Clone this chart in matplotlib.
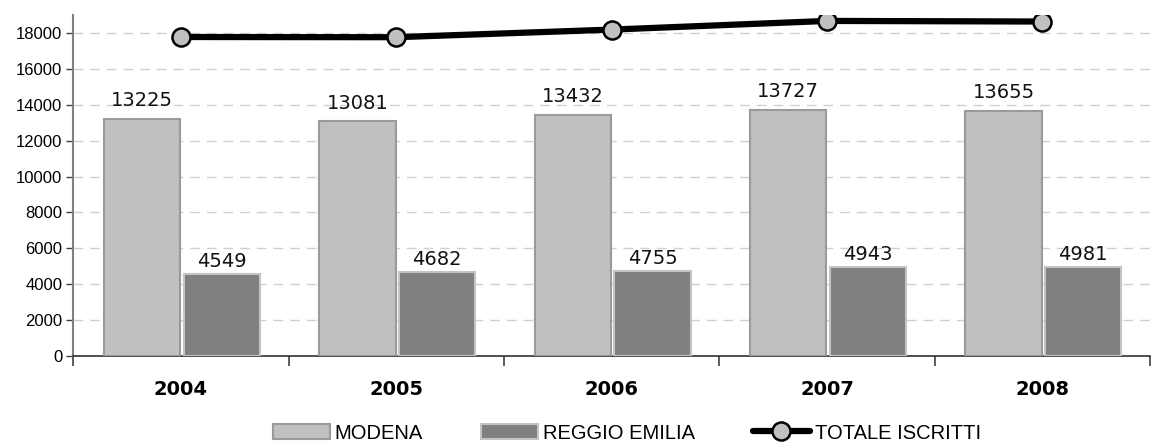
import matplotlib
matplotlib.use("Agg")
import matplotlib.pyplot as plt
import numpy as np

years = ["2004", "2005", "2006", "2007", "2008"]
modena = [13225, 13081, 13432, 13727, 13655]
reggio = [4549, 4682, 4755, 4943, 4981]
totale = [m + r for m, r in zip(modena, reggio)]
yticks = list(range(0, 18001, 2000))

fig = plt.figure(figsize=(11.61, 4.44), dpi=100)
ax = fig.add_axes([73.3/1161, 1-356/444, (1150-73.3)/1161, (356-15)/444])

x = np.arange(len(years))
w = 0.355
b1 = ax.bar(x - 0.18, modena, w, color="#c0c0c0", edgecolor="#9a9a9a", linewidth=1.5, label="MODENA", zorder=3)
b2 = ax.bar(x + 0.19, reggio, w, color="#808080", edgecolor="#c4c4c4", linewidth=1.5, label="REGGIO EMILIA", zorder=3)
ax.plot(x, totale, color="black", linewidth=4.5, marker="o", markersize=13,
        markerfacecolor="#c0c0c0", markeredgecolor="black", markeredgewidth=1.8,
        label="TOTALE ISCRITTI", zorder=4, solid_capstyle="round")

for xi, v in zip(x - 0.18, modena):
    ax.text(xi, v + 700, str(v), ha="center", va="baseline", fontsize=14, color="#111111", family="DejaVu Sans")
for xi, v in zip(x + 0.19, reggio):
    ax.text(xi, v + 390, str(v), ha="center", va="baseline", fontsize=14, color="#111111", family="DejaVu Sans")

ax.set_xlim(-0.5, 4.5)
ax.set_ylim(0, 19000)
ax.set_yticks(yticks)
ax.set_yticklabels([str(t) for t in yticks], fontsize=12, family="Liberation Sans")
ax.yaxis.grid(True, linestyle=(0, (7, 5)), color="#d0d0d0", linewidth=1, zorder=0)
ax.set_axisbelow(True)

ax.set_xticks(x)
ax.set_xticklabels(years, fontsize=14, fontweight="bold", family="DejaVu Sans")
ax.tick_params(axis="x", which="major", length=0, pad=17)
ax.set_xticks(np.arange(-0.5, 4.6, 1), minor=True)
ax.tick_params(axis="x", which="minor", length=7, width=1.2, color="#404040", direction="out")
ax.tick_params(axis="y", length=5, width=1, color="#404040", direction="out", pad=3)

for s in ["top", "right"]:
    ax.spines[s].set_visible(False)
ax.spines["left"].set_color("#808080")
ax.spines["left"].set_linewidth(1.5)
ax.spines["bottom"].set_color("#303030")
ax.spines["bottom"].set_linewidth(1.2)

leg = fig.legend(handles=[b1, b2, ax.lines[0]], labels=["MODENA", "REGGIO EMILIA", "TOTALE ISCRITTI"],
                 loc="center", bbox_to_anchor=(0.540, 1 - 433/444), ncol=3, frameon=False,
                 prop={"family": "Liberation Sans", "size": 14.5},
                 handlelength=2.8, handleheight=0.75, handletextpad=0.25, columnspacing=2.9,
                 borderpad=0.1)

fig.savefig("out.png", dpi=100)
